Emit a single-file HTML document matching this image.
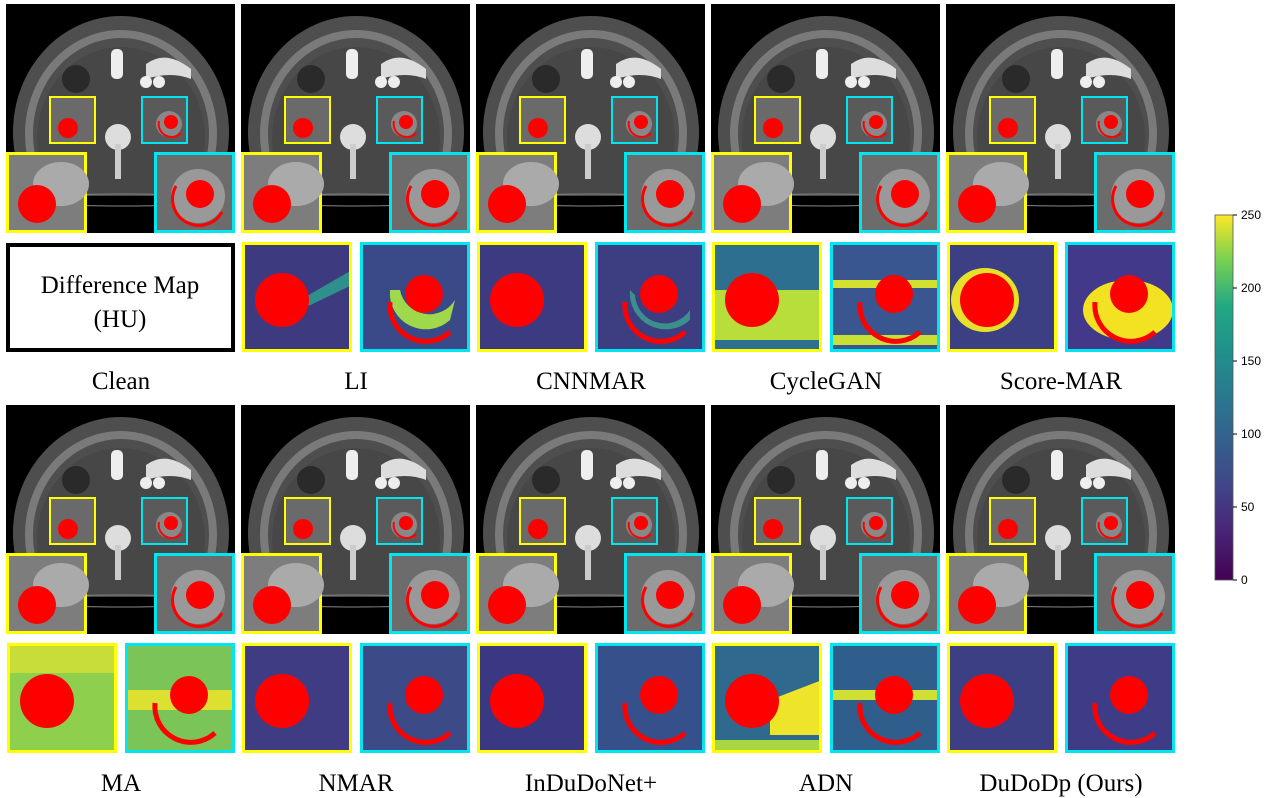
<!DOCTYPE html>
<html><head><meta charset="utf-8"><style>
html,body{margin:0;padding:0;background:#fff;width:1269px;height:798px;overflow:hidden}
svg{display:block}
text{font-family:"Liberation Serif",serif;fill:#000}
</style></head><body>
<svg width="1269" height="798" viewBox="0 0 1269 798" xmlns="http://www.w3.org/2000/svg">
<defs>
<linearGradient id="vir" x1="0" y1="1" x2="0" y2="0">
<stop offset="0" stop-color="#440154"/><stop offset="0.13" stop-color="#482475"/><stop offset="0.25" stop-color="#414487"/><stop offset="0.38" stop-color="#355f8d"/><stop offset="0.5" stop-color="#2a788e"/><stop offset="0.63" stop-color="#21918c"/><stop offset="0.75" stop-color="#22a884"/><stop offset="0.88" stop-color="#7ad151"/><stop offset="1" stop-color="#fde725"/>
</linearGradient>
<clipPath id="cb"><rect x="0" y="0" width="229" height="192"/></clipPath>
<symbol id="ct" viewBox="0 0 229 229" width="229" height="229">
<rect width="229" height="229" fill="#000"/>
<g clip-path="url(#cb)">
<ellipse cx="115" cy="128" rx="108" ry="116" fill="#4e4e4e"/>
<ellipse cx="115" cy="130" rx="92" ry="100" fill="none" stroke="#7a7a7a" stroke-width="8"/>
<ellipse cx="115" cy="135" rx="84" ry="92" fill="#474747"/>
</g>
<ellipse cx="115" cy="196" rx="95" ry="6" fill="none" stroke="#888" stroke-width="1"/>
<rect x="105" y="45" width="12" height="30" rx="5" fill="#eee"/>
<path d="M140 60 q20 -15 45 5 l0 10 q-20 -8 -45 0z" fill="#ddd"/>
<circle cx="140" cy="78" r="6" fill="#eee"/><circle cx="153" cy="78" r="6" fill="#eee"/>
<circle cx="70" cy="75" r="14" fill="#2a2a2a"/>
<circle cx="112" cy="133" r="13" fill="#ddd"/>
<rect x="109" y="140" width="6" height="35" fill="#ccc"/>
<rect x="44" y="93" width="45" height="46" fill="#6a6a6a" stroke="#ffff00" stroke-width="2"/>
<circle cx="62" cy="124" r="10" fill="#f00"/>
<rect x="136" y="93" width="45" height="46" fill="#5a5a5a" stroke="#00e5ee" stroke-width="2"/>
<circle cx="163" cy="120" r="13" fill="#888"/>
<circle cx="165" cy="118" r="7" fill="#f00"/>
<path d="M153 117 a13 13 0 0 0 22 12" fill="none" stroke="#f00" stroke-width="2"/>
<rect x="1.5" y="149.5" width="78" height="78" fill="#7d7d7d" stroke="#ffff00" stroke-width="3"/>
<ellipse cx="55" cy="180" rx="28" ry="22" fill="#aaa"/>
<circle cx="31" cy="200" r="19" fill="#f00"/>
<rect x="149.5" y="149.5" width="78" height="78" fill="#6c6c6c" stroke="#00e5ee" stroke-width="3"/>
<circle cx="192" cy="192" r="27" fill="#999"/>
<circle cx="194" cy="190" r="14" fill="#f00"/>
<path d="M170 182 a26 26 0 0 0 46 26" fill="none" stroke="#f00" stroke-width="3"/>
</symbol>
<symbol id="dl" viewBox="0 0 110 110" width="110" height="110">
<circle cx="40" cy="58" r="27" fill="#f00"/>
<rect x="1.5" y="1.5" width="107" height="107" fill="none" stroke="#ffff00" stroke-width="3"/>
</symbol>
<symbol id="dr" viewBox="0 0 110 110" width="110" height="110">
<circle cx="64" cy="52" r="19" fill="#f00"/>
<path d="M30 60 a36 36 0 0 0 60 30" fill="none" stroke="#f00" stroke-width="5"/>
<rect x="1.5" y="1.5" width="107" height="107" fill="none" stroke="#00e5ee" stroke-width="3"/>
</symbol>
</defs>

<!-- Row 1 CT -->
<use href="#ct" x="6" y="4"/><use href="#ct" x="241" y="4"/><use href="#ct" x="476" y="4"/><use href="#ct" x="711" y="4"/><use href="#ct" x="946" y="4"/>
<!-- Row 2 CT -->
<use href="#ct" x="6" y="405"/><use href="#ct" x="241" y="405"/><use href="#ct" x="476" y="405"/><use href="#ct" x="711" y="405"/><use href="#ct" x="946" y="405"/>

<!-- Difference Map box -->
<rect x="8" y="245" width="225" height="105" fill="#fff" stroke="#000" stroke-width="4"/>
<text x="120" y="293" font-size="25" text-anchor="middle">Difference Map</text>
<text x="120" y="327" font-size="25" text-anchor="middle">(HU)</text>

<!-- Row 1 diff backgrounds -->
<rect x="242" y="242" width="110" height="110" fill="#3e3a80"/>
<path d="M300 300 L352 270 L352 285 L300 310z" fill="#2f8f8c"/>
<rect x="360" y="242" width="110" height="110" fill="#3a4a88"/>
<path d="M390 290 a36 36 0 0 0 60 30 L455 300 a30 30 0 0 1 -55 -10z" fill="#9fd84a"/>
<rect x="477" y="242" width="110" height="110" fill="#3c3a80"/>
<rect x="595" y="242" width="110" height="110" fill="#3d3d82"/>
<path d="M630 290 a36 36 0 0 0 60 30 L690 310 a30 30 0 0 1 -55 -15z" fill="#3b8f8c"/>
<rect x="712" y="242" width="110" height="110" fill="#2d6f8e"/>
<rect x="712" y="290" width="110" height="50" fill="#b7de3a"/>
<rect x="830" y="242" width="110" height="110" fill="#3a5690"/>
<rect x="830" y="280" width="110" height="8" fill="#d4e030"/><rect x="830" y="335" width="110" height="10" fill="#c8e035"/>
<rect x="947" y="242" width="110" height="110" fill="#3c3f84"/>
<ellipse cx="985" cy="300" rx="34" ry="32" fill="#e8e12a"/>
<rect x="1065" y="242" width="110" height="110" fill="#43398a"/>
<ellipse cx="1128" cy="310" rx="45" ry="30" fill="#f2e222"/>
<use href="#dl" x="242" y="242"/><use href="#dr" x="360" y="242"/>
<use href="#dl" x="477" y="242"/><use href="#dr" x="595" y="242"/>
<use href="#dl" x="712" y="242"/><use href="#dr" x="830" y="242"/>
<use href="#dl" x="947" y="242"/><use href="#dr" x="1065" y="242"/>

<!-- Row 2 diff backgrounds -->
<rect x="7" y="643" width="110" height="110" fill="#8fcf4e"/>
<rect x="7" y="643" width="110" height="30" fill="#c9dd3a"/>
<rect x="125" y="643" width="110" height="110" fill="#7ac458"/>
<rect x="125" y="690" width="110" height="20" fill="#dce030"/>
<rect x="242" y="643" width="110" height="110" fill="#3f3c84"/>
<rect x="360" y="643" width="110" height="110" fill="#3c4a88"/>
<rect x="477" y="643" width="110" height="110" fill="#3a3882"/>
<rect x="595" y="643" width="110" height="110" fill="#36508c"/>
<rect x="712" y="643" width="110" height="110" fill="#2f6a8e"/>
<path d="M770 700 L822 680 L822 735 L770 735z" fill="#eee52a"/>
<rect x="712" y="740" width="110" height="10" fill="#a9d744"/>
<rect x="830" y="643" width="110" height="110" fill="#2f5e8c"/>
<rect x="830" y="690" width="110" height="10" fill="#d0df33"/>
<rect x="947" y="643" width="110" height="110" fill="#3d3f85"/>
<rect x="1065" y="643" width="110" height="110" fill="#3e3c86"/>
<use href="#dl" x="7" y="643"/><use href="#dr" x="125" y="643"/>
<use href="#dl" x="242" y="643"/><use href="#dr" x="360" y="643"/>
<use href="#dl" x="477" y="643"/><use href="#dr" x="595" y="643"/>
<use href="#dl" x="712" y="643"/><use href="#dr" x="830" y="643"/>
<use href="#dl" x="947" y="643"/><use href="#dr" x="1065" y="643"/>

<!-- Labels -->
<g font-size="25" text-anchor="middle">
<text x="121" y="389">Clean</text><text x="356" y="389">LI</text><text x="591" y="389">CNNMAR</text><text x="826" y="389">CycleGAN</text><text x="1061" y="389">Score-MAR</text>
<text x="121" y="791">MA</text><text x="356" y="791">NMAR</text><text x="591" y="791">InDuDoNet+</text><text x="826" y="791">ADN</text><text x="1061" y="791">DuDoDp (Ours)</text>
</g>

<!-- Colorbar -->
<rect x="1215" y="215" width="18" height="365" fill="url(#vir)" stroke="#555" stroke-width="0.8"/>
<g stroke="#000" stroke-width="1">
<line x1="1233" y1="215" x2="1237" y2="215"/><line x1="1233" y1="288" x2="1237" y2="288"/><line x1="1233" y1="361" x2="1237" y2="361"/><line x1="1233" y1="434" x2="1237" y2="434"/><line x1="1233" y1="507" x2="1237" y2="507"/><line x1="1233" y1="580" x2="1237" y2="580"/>
</g>
<g font-size="12" style="font-family:'Liberation Sans',sans-serif">
<text x="1241" y="219" style="font-family:'Liberation Sans',sans-serif">250</text>
<text x="1241" y="292" style="font-family:'Liberation Sans',sans-serif">200</text>
<text x="1241" y="365" style="font-family:'Liberation Sans',sans-serif">150</text>
<text x="1241" y="438" style="font-family:'Liberation Sans',sans-serif">100</text>
<text x="1241" y="511" style="font-family:'Liberation Sans',sans-serif">50</text>
<text x="1241" y="584" style="font-family:'Liberation Sans',sans-serif">0</text>
</g>
</svg>
</body></html>
